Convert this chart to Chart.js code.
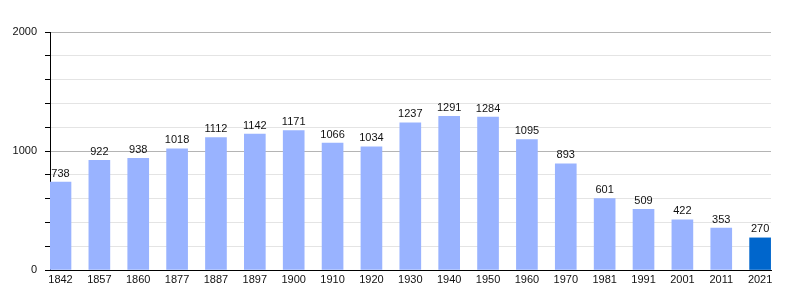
<!DOCTYPE html>
<html>
<head>
<meta charset="utf-8">
<script src="https://cdn.jsdelivr.net/npm/chart.js@4"></script>
<style>
  html, body { margin: 0; padding: 0; background: #fff; }
  #wrap { width: 800px; height: 300px; }
</style>
</head>
<body>
<div id="wrap"><canvas id="popChart" width="800" height="300"></canvas></div>
<script>
var years = ['1842', '1857', '1860', '1877', '1887', '1897', '1900', '1910', '1920', '1930',
  '1940', '1950', '1960', '1970', '1981', '1991', '2001', '2011', '2021'];
var population = [738, 922, 938, 1018, 1112, 1142, 1171, 1066, 1034, 1237,
  1291, 1284, 1095, 893, 601, 509, 422, 353, 270];
var yTickLabels = [0, 1000, 2000];

var FONT = '"Liberation Sans", Arial, sans-serif';

// draws the value above each bar
var valueLabels = {
  id: 'valueLabels',
  afterDatasetsDraw: function (chart) {
    const ctx = chart.ctx;
    const meta = chart.getDatasetMeta(0);
    ctx.save();
    ctx.font = '11px ' + FONT;
    ctx.fillStyle = '#111';
    ctx.textAlign = 'center';
    ctx.textBaseline = 'bottom';
    meta.data.forEach(function (bar, i) {
      ctx.fillText(String(population[i]), bar.x, bar.y - 3);
    });
    ctx.restore();
  },
};

const ctx = document.getElementById('popChart').getContext('2d');
const myChart = new Chart(ctx, {
  type: 'bar',
  data: {
    datasets: [{
      data: population.map(function (v, i) { return { x: i, y: v }; }),
      backgroundColor: population.map(function (v, i) {
        return i === population.length - 1 ? '#0066cc' : '#99b3ff';
      }),
      barThickness: 21,
      borderWidth: 0,
    }],
  },
  options: {
    responsive: false,
    animation: false,
    layout: {
      padding: { top: 32, right: 29, left: 0, bottom: 0 },
    },
    plugins: {
      legend: { display: false },
      tooltip: { enabled: false },
    },
    scales: {
      x: {
        type: 'linear',
        offset: false,
        min: -0.27,
        max: 18.28,
        afterFit: function (scale) { scale.height = 30; },
        grid: { display: false, drawTicks: false, offset: false },
        border: { display: true, color: '#000', width: 1 },
        ticks: {
          stepSize: 1,
          includeBounds: false,
          autoSkip: false,
          maxRotation: 0,
          padding: 3,
          color: '#111',
          font: { family: FONT, size: 11 },
          callback: function (value) {
            return Number.isInteger(value) ? years[value] : '';
          },
        },
      },
      y: {
        min: 0,
        max: 2000,
        afterFit: function (scale) { scale.width = 50; },
        grid: {
          color: function (c) {
            return c.tick && (c.tick.value === 1000 || c.tick.value === 2000) ? '#b4b4b4' : '#e4e4e4';
          },
          lineWidth: 1,
          tickColor: '#000',
          tickLength: 5,
        },
        border: { display: true, color: '#000', width: 1 },
        ticks: {
          stepSize: 200,
          padding: 8,
          color: '#111',
          font: { family: FONT, size: 11 },
          callback: function (value) {
            return yTickLabels.indexOf(value) >= 0 ? String(value) : '';
          },
        },
      },
    },
  },
  plugins: [valueLabels],
});
</script>
</body>
</html>
